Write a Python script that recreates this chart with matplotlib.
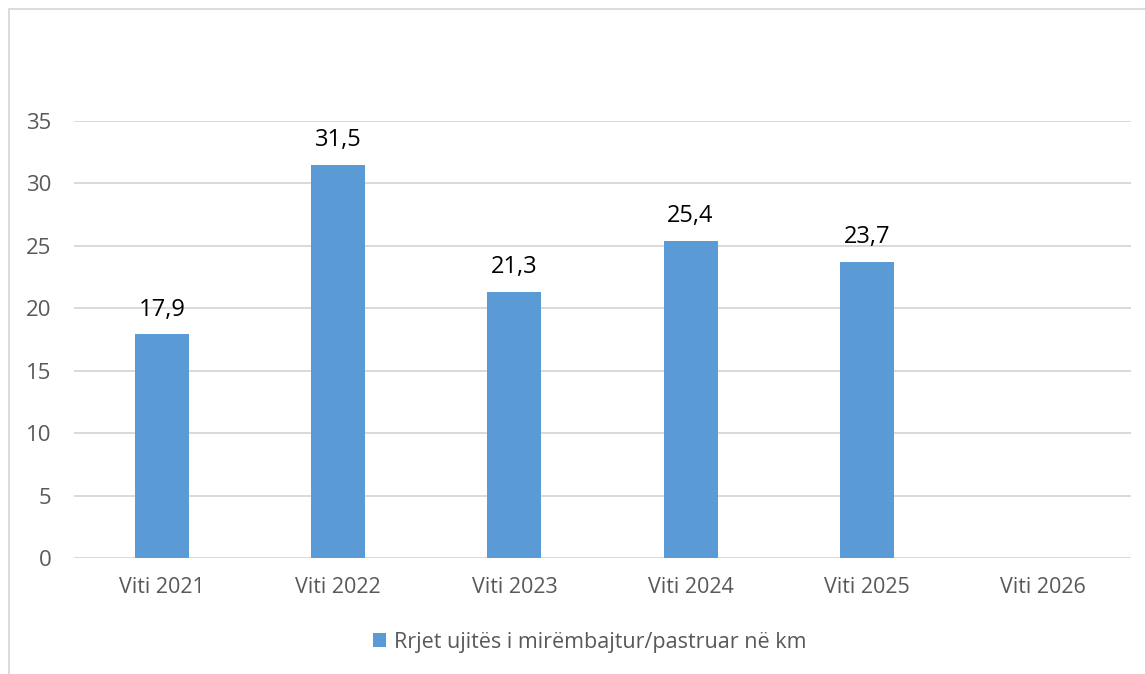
import matplotlib.pyplot as plt
from matplotlib.patches import Rectangle

# datos del grafico
categorias = ["Viti 2021", "Viti 2022", "Viti 2023", "Viti 2024", "Viti 2025", "Viti 2026"]
valores = [17.9, 31.5, 21.3, 25.4, 23.7, None]
etiquetas = ["17,9", "31,5", "21,3", "25,4", "23,7", ""]
serie = "Rrjet ujitës i mirëmbajtur/pastruar në km"
yticks = [0, 5, 10, 15, 20, 25, 30, 35]

plt.rcParams['font.family'] = ['Open Sans', 'DejaVu Sans']

fig = plt.figure(figsize=(11.45, 6.74), dpi=100)
ax = fig.add_axes([0.0646, 0.1721, 0.9232, 0.6484])

x = list(range(len(categorias)))
alturas = [v if v is not None else 0 for v in valores]
barras = ax.bar(x, alturas, width=0.306, color="#5b9bd5", zorder=3, label=serie)

# etiquetas de datos (2026 no tiene valor)
for xi, v, t in zip(x, valores, etiquetas):
    if v is None:
        continue
    ax.text(xi, v + 2.0, t, ha="center", va="center", fontsize=17, color="black")

ax.set_xlim(-0.5, len(categorias) - 0.5)
ax.set_ylim(0, 35)
ax.set_yticks(yticks)
ax.set_xticks(x)
ax.set_xticklabels(categorias)
ax.tick_params(axis="x", length=0, labelsize=15.5, colors="#595959", pad=14)
ax.tick_params(axis="y", length=0, labelsize=16, colors="#595959", pad=16)
ax.grid(axis="y", color="#d9d9d9", linewidth=1.4, zorder=0)
for s in ax.spines.values():
    s.set_visible(False)

fig.legend(handles=[barras], labels=[serie], loc="center", bbox_to_anchor=(0.515, 0.047),
           frameon=False, fontsize=15.5, labelcolor="#595959", handlelength=0.6,
           handleheight=0.6, handletextpad=0.4)

# borde del area del grafico
fig.patches.append(Rectangle((9 / 1145, -0.1), 1.2, 1 - 9 / 674 + 0.1,
                             transform=fig.transFigure, fill=False,
                             edgecolor="#d9d9d9", linewidth=1.3))

plt.savefig("out.png", dpi=100)
